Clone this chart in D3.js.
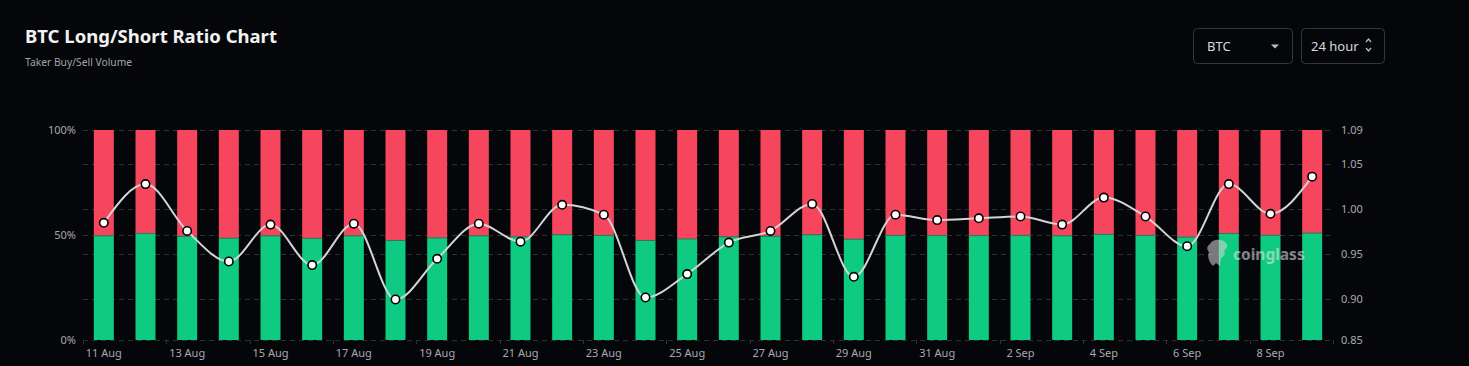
<!DOCTYPE html>
<html>
<head>
<meta charset="utf-8">
<script src="https://cdn.jsdelivr.net/npm/d3@7"></script>
<style>
	html, body { margin: 0; padding: 0; background: #05060a; }
	#chart { width: 1469px; height: 366px; }
	text { font-family: "Noto Sans", "Open Sans", sans-serif; }
</style>
</head>
<body>
<div id="chart"></div>
<script>
// daily data, 11 Aug - 9 Sep
const days = ['11 Aug','12 Aug','13 Aug','14 Aug','15 Aug','16 Aug','17 Aug','18 Aug','19 Aug','20 Aug',
	'21 Aug','22 Aug','23 Aug','24 Aug','25 Aug','26 Aug','27 Aug','28 Aug','29 Aug','30 Aug',
	'31 Aug','1 Sep','2 Sep','3 Sep','4 Sep','5 Sep','6 Sep','7 Sep','8 Sep','9 Sep'];

// buy (long) share of taker volume, %
const longPct = [49.6, 50.7, 49.4, 48.5, 49.6, 48.4, 49.6, 47.4, 48.6, 49.6,
	49.1, 50.1, 49.8, 47.4, 48.1, 49.1, 49.4, 50.1, 48.0, 49.8,
	49.7, 49.7, 49.8, 49.6, 50.3, 49.8, 49.0, 50.7, 49.9, 50.9];

// long/short ratio
const ratio = [0.985, 1.028, 0.976, 0.942, 0.983, 0.938, 0.984, 0.8998, 0.945, 0.984,
	0.964, 1.005, 0.994, 0.902, 0.928, 0.963, 0.976, 1.006, 0.925, 0.994,
	0.988, 0.990, 0.992, 0.983, 1.013, 0.992, 0.959, 1.028, 0.995, 1.0363];

const pctTicks = [0, 50, 100];
const ratioTicks = [0.90, 0.95, 1.00, 1.05];

const W = 1469, H = 366;
const margin = {l: 83, r: 136, t: 130, b: 26};
const w = W - margin.l - margin.r;
const h = H - margin.t - margin.b;

const svg = d3.select('#chart')
	.append('svg')
	.attr('width', W)
	.attr('height', H);

svg.append('rect').attr('width', W).attr('height', H).attr('fill', '#05060a');

// header
svg.append('text')
	.attr('x', 25).attr('y', 43)
	.attr('fill', '#f2f2f2')
	.style('font-size', '18.5px').style('font-weight', 700)
	.text('BTC Long/Short Ratio Chart');
svg.append('text')
	.attr('x', 25).attr('y', 66)
	.attr('fill', '#a3a3a8')
	.style('font-size', '10.3px')
	.text('Taker Buy/Sell Volume');

// selects
const sel = svg.append('g');
sel.append('rect').attr('x', 1193.5).attr('y', 28.5).attr('width', 99).attr('height', 35)
	.attr('rx', 4).attr('fill', 'none').attr('stroke', '#34363c');
sel.append('text').attr('x', 1207).attr('y', 50.5).attr('fill', '#d8d8dc')
	.style('font-size', '13px').text('BTC');
sel.append('path').attr('d', 'M1271,44.5 L1279,44.5 L1275,48.5 Z').attr('fill', '#bbbbc0');
sel.append('rect').attr('x', 1301.5).attr('y', 28.5).attr('width', 83).attr('height', 35)
	.attr('rx', 4).attr('fill', 'none').attr('stroke', '#34363c');
sel.append('text').attr('x', 1311).attr('y', 50.5).attr('fill', '#d8d8dc')
	.style('font-size', '13px').text('24 hour');
sel.append('path').attr('d', 'M1366,42 L1368.5,39 L1371,42 M1366,48 L1368.5,51 L1371,48')
	.attr('fill', 'none').attr('stroke', '#bbbbc0').attr('stroke-width', 1.2);

const plot = svg.append('g')
	.attr('class', 'plot')
	.attr('transform', `translate(${margin.l}, ${margin.t})`);

const x = d3.scaleBand().domain(days).range([0, w]).paddingInner(0.52).paddingOuter(0.26);
const yPct = d3.scaleLinear().domain([0, 100]).range([h, 0]);
const yRatio = d3.scaleLinear()
	.domain([d3.min(ratio) * 0.95, d3.max(ratio) * 1.05])
	.range([h, 0]);

// grid lines from both axes
const gridY = pctTicks.map(d => yPct(d)).concat(ratioTicks.map(d => yRatio(d)));
plot.selectAll('.grid')
	.data(gridY)
	.enter()
	.append('line')
	.attr('class', 'grid')
	.attr('x1', 0).attr('x2', w)
	.attr('y1', d => Math.round(d) + 0.5).attr('y2', d => Math.round(d) + 0.5)
	.attr('stroke', '#2e3036')
	.attr('stroke-dasharray', '5,4');

// bars
const bars = plot.selectAll('.bar')
	.data(days)
	.enter()
	.append('g')
	.attr('class', 'bar');

bars.append('rect')
	.attr('x', d => x(d))
	.attr('width', x.bandwidth())
	.attr('y', yPct(100))
	.attr('height', (d, i) => yPct(longPct[i]) - yPct(100))
	.attr('fill', '#f6465d');

bars.append('rect')
	.attr('x', d => x(d))
	.attr('width', x.bandwidth())
	.attr('y', (d, i) => yPct(longPct[i]))
	.attr('height', (d, i) => h - yPct(longPct[i]))
	.attr('fill', '#0ecb81');

bars.append('line')
	.attr('x1', d => x(d)).attr('x2', d => x(d) + x.bandwidth())
	.attr('y1', (d, i) => yPct(longPct[i])).attr('y2', (d, i) => yPct(longPct[i]))
	.attr('stroke', '#2b7a5a').attr('stroke-width', 1);

// watermark
const wm = svg.append('g').attr('opacity', 0.55);
wm.append('path')
	.attr('d', 'M1210,244 C1212,239 1222,238 1226,243 C1229,246 1226,249 1224,250 C1226,253 1224,257 1221,258 L1220,266 L1216,263 L1213,266 C1209,262 1207,257 1209,252 C1206,249 1207,246 1210,244 Z')
	.attr('fill', '#d8d8d8');
wm.append('text')
	.attr('x', 1233).attr('y', 260)
	.attr('fill', '#e8e8e8')
	.style('font-size', '15.5px').style('font-weight', 700)
	.text('coinglass');

// ratio line
const line = d3.line()
	.x((d, i) => x(days[i]) + x.bandwidth() / 2)
	.y(d => yRatio(d))
	.curve(d3.curveMonotoneX);

plot.append('path')
	.datum(ratio)
	.attr('d', line)
	.attr('fill', 'none')
	.attr('stroke', '#d4d4d6')
	.attr('stroke-width', 2);

plot.selectAll('.dot')
	.data(ratio)
	.enter()
	.append('circle')
	.attr('class', 'dot')
	.attr('cx', (d, i) => x(days[i]) + x.bandwidth() / 2)
	.attr('cy', d => yRatio(d))
	.attr('r', 4.2)
	.attr('fill', '#ffffff')
	.attr('stroke', '#000000')
	.attr('stroke-width', 1.6);

// axes
const axisColor = '#a9a9ae';

plot.selectAll('.lbl-left')
	.data(pctTicks)
	.enter()
	.append('text')
	.attr('x', -7).attr('y', d => yPct(d) + 4)
	.attr('text-anchor', 'end')
	.attr('fill', axisColor)
	.style('font-size', '11px')
	.text(d => d + '%');

const yr = yRatio.domain();
const rightLabels = [yr[0]].concat(ratioTicks).concat([yr[1]]);
plot.selectAll('.lbl-right')
	.data(rightLabels)
	.enter()
	.append('text')
	.attr('x', w + 8).attr('y', d => yRatio(d) + 4)
	.attr('fill', axisColor)
	.style('font-size', '11px')
	.text(d => d.toFixed(2));

plot.selectAll('.lbl-x')
	.data(days.filter((d, i) => i % 2 === 0))
	.enter()
	.append('text')
	.attr('x', d => x(d) + x.bandwidth() / 2)
	.attr('y', h + 17)
	.attr('text-anchor', 'middle')
	.attr('fill', axisColor)
	.style('font-size', '11px')
	.text(d => d);

// small ticks between label pairs
const step = x.step();
plot.selectAll('.xtick')
	.data(d3.range(0, days.length + 1, 2))
	.enter()
	.append('line')
	.attr('x1', d => Math.round(d * step) + 0.5).attr('x2', d => Math.round(d * step) + 0.5)
	.attr('y1', h).attr('y2', h + 4)
	.attr('stroke', '#2e3036');
</script>
</body>
</html>
